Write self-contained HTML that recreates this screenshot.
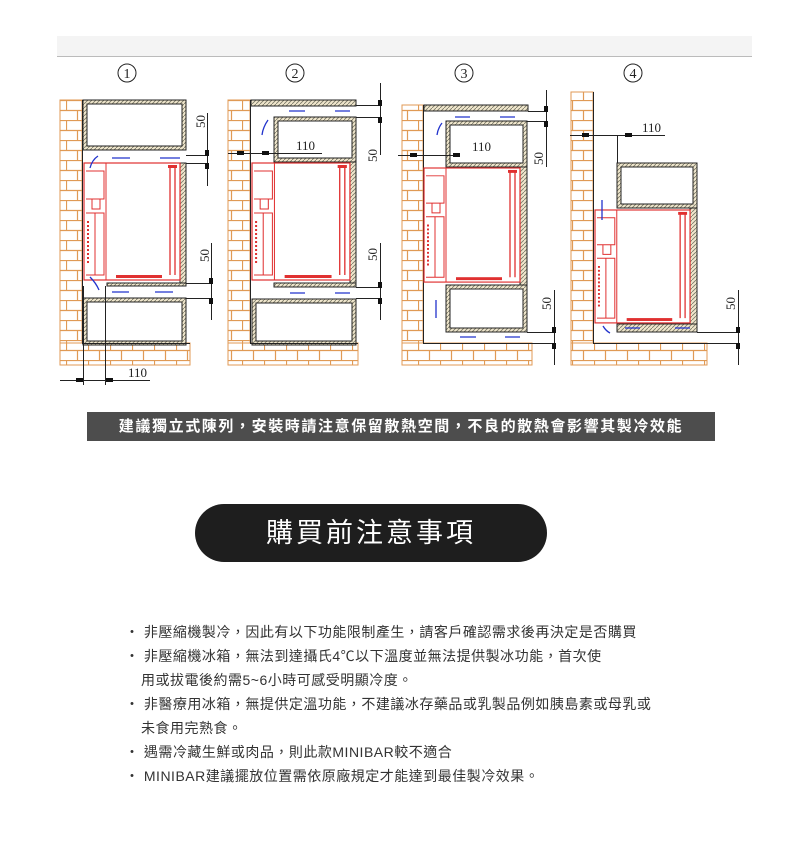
<!DOCTYPE html>
<html><head><meta charset="utf-8"><style>
html,body{margin:0;padding:0;background:#fff;width:800px;height:841px;overflow:hidden;position:relative;font-family:"Liberation Sans","Noto Sans CJK TC",sans-serif}
.banner{position:absolute;left:87px;top:412px;width:628px;height:29px;background:#4d4d4d;color:#fff;font-size:15px;font-weight:bold;text-align:center;line-height:29px;letter-spacing:1.6px}
.pill{position:absolute;left:195px;top:504px;width:352px;height:58px;background:#1e1e1e;border-radius:29px;color:#fff;font-size:27px;text-align:center;line-height:58px;letter-spacing:3px}
.notes{position:absolute;left:125px;top:620px;font-size:14px;color:#333;line-height:24px;letter-spacing:0.5px}
.notes div{white-space:nowrap}
.c{padding-left:16px}
</style></head><body>
<svg width="800" height="400" style="position:absolute;left:0;top:0" xmlns="http://www.w3.org/2000/svg">
<defs>
<pattern id="brick" width="22" height="20" patternUnits="userSpaceOnUse">
<rect width="22" height="20" fill="#fff"/>
<path d="M0 0.5H22M0 10.5H22M0.5 0V10M11.5 10V20" stroke="#e09a55" stroke-width="1.2" fill="none"/>
</pattern>
<pattern id="hatch" width="4" height="4" patternUnits="userSpaceOnUse">
<rect width="4" height="4" fill="#f0e6cc"/>
<path d="M0 4L4 0" stroke="#776" stroke-width="0.8"/>
</pattern>
<g id="fr">
<rect x="0" y="0" width="96" height="117" fill="#fff" stroke="#e03030" stroke-width="1.2"/>
<path d="M22 0V117M2 50H20V112H2M11 50V112M2 8H20V36H2M8 36V46H16V36" stroke="#e03030" fill="none" stroke-width="1"/>
<path d="M86 4V112M91 4V112" stroke="#e03030" stroke-width="1.3" fill="none"/>
<rect x="84" y="2" width="9" height="3" fill="#e03030"/>
<rect x="32" y="112" width="46" height="3" fill="#e03030"/>
<path d="M4 58V100" stroke="#e03030" stroke-dasharray="2 2" stroke-width="2"/>
</g>
</defs>
<rect x="57" y="36" width="695" height="20" fill="#f4f4f4"/>
<line x1="57" y1="56.5" x2="752" y2="56.5" stroke="#bbb"/>
<g font-family="Liberation Serif,serif" font-size="14" fill="#222" stroke="none">
<circle cx="127" cy="73" r="9" fill="none" stroke="#222"/><text x="127" y="78" text-anchor="middle">1</text>
<circle cx="295" cy="73" r="9" fill="none" stroke="#222"/><text x="295" y="78" text-anchor="middle">2</text>
<circle cx="464" cy="73" r="9" fill="none" stroke="#222"/><text x="464" y="78" text-anchor="middle">3</text>
<circle cx="633" cy="73" r="9" fill="none" stroke="#222"/><text x="633" y="78" text-anchor="middle">4</text>
</g>
<g stroke="#e09a55" stroke-width="1">
<rect x="60" y="100" width="22" height="265" fill="url(#brick)"/>
<rect x="60" y="343" width="130" height="22" fill="url(#brick)"/>
<rect x="228" y="100" width="22" height="265" fill="url(#brick)"/>
<rect x="228" y="343" width="130" height="22" fill="url(#brick)"/>
<rect x="402" y="105" width="21" height="260" fill="url(#brick)"/>
<rect x="402" y="343" width="130" height="22" fill="url(#brick)"/>
<rect x="571" y="92" width="22" height="273" fill="url(#brick)"/>
<rect x="571" y="343" width="136" height="22" fill="url(#brick)"/>
</g>
<g stroke="#222" stroke-width="1">
<path d="M82.5 100V343M250.5 100V343M423.5 105V343M593.5 92V343" />
<rect x="83" y="100" width="103" height="50" fill="url(#hatch)"/><rect x="87" y="104" width="95" height="42" fill="#fff"/>
<rect x="83" y="298" width="103" height="47" fill="url(#hatch)"/><rect x="87" y="302" width="95" height="39" fill="#fff"/>
<rect x="180" y="163" width="6" height="120" fill="url(#hatch)"/>
<rect x="107" y="283" width="79" height="3" fill="url(#hatch)"/>
<rect x="251" y="100" width="105" height="6" fill="url(#hatch)"/>
<rect x="274" y="117" width="82" height="45" fill="url(#hatch)"/><rect x="278" y="121" width="74" height="37" fill="#fff"/>
<rect x="350" y="162" width="6" height="125" fill="url(#hatch)"/>
<rect x="274" y="283" width="82" height="4" fill="url(#hatch)"/>
<rect x="252" y="299" width="104" height="46" fill="url(#hatch)"/><rect x="256" y="303" width="96" height="38" fill="#fff"/>
<rect x="424" y="105" width="104" height="6" fill="url(#hatch)"/>
<rect x="446" y="121" width="81" height="46" fill="url(#hatch)"/><rect x="450" y="125" width="73" height="38" fill="#fff"/>
<rect x="520" y="167" width="7" height="118" fill="url(#hatch)"/>
<rect x="446" y="285" width="81" height="47" fill="url(#hatch)"/><rect x="450" y="289" width="73" height="39" fill="#fff"/>
<rect x="617" y="163" width="80" height="45" fill="url(#hatch)"/><rect x="621" y="167" width="72" height="37" fill="#fff"/>
<rect x="690" y="208" width="7" height="124" fill="url(#hatch)"/>
<rect x="617" y="324" width="80" height="8" fill="url(#hatch)"/>
</g>
<use href="#fr" x="84" y="163"/>
<use href="#fr" transform="translate(252,163) scale(1.02,1)"/>
<use href="#fr" transform="translate(424,168) scale(1,0.975)"/>
<use href="#fr" transform="translate(595,210) scale(0.99,0.965)"/>
<g stroke="#222" stroke-width="1" fill="none">
<path d="M82 343.5H190M250 343.5H358M423 343.5H532M593 343.5H707"/>
<path d="M186 155.5H207M186 163.5H207M207.5 113V186M186 283.5H211M186 298.5H211M211.5 243V320M83.5 286V385M105.5 286V385M60 380.5H150"/>
<path d="M356 105.5H380M356 117.5H380M380.5 83V155M228 153.5H322M356 287.5H380M356 298.5H380M380.5 243V320"/>
<path d="M528 111.5H546M527 121.5H546M546.5 90V167M398 155.5H460M527 332.5H554M532 343.5H554M554.5 290V365"/>
<path d="M570 135.5H665M617.5 135V163M697 332.5H738M707 343.5H738M738.5 290V365"/>
</g>
<g fill="#111">
<rect x="205" y="150" width="4" height="6"/><rect x="205" y="163" width="4" height="6"/>
<rect x="209" y="278" width="4" height="6"/><rect x="209" y="298" width="4" height="6"/>
<rect x="76" y="378" width="7" height="4"/><rect x="106" y="378" width="7" height="4"/>
<rect x="378" y="100" width="4" height="6"/><rect x="378" y="117" width="4" height="6"/>
<rect x="237" y="151" width="7" height="4"/><rect x="262" y="151" width="7" height="4"/>
<rect x="378" y="282" width="4" height="6"/><rect x="378" y="298" width="4" height="6"/>
<rect x="544" y="106" width="4" height="6"/><rect x="544" y="121" width="4" height="6"/>
<rect x="410" y="153" width="7" height="4"/><rect x="453" y="153" width="7" height="4"/>
<rect x="552" y="327" width="4" height="6"/><rect x="552" y="343" width="4" height="6"/>
<rect x="582" y="133" width="7" height="4"/><rect x="625" y="133" width="7" height="4"/>
<rect x="736" y="327" width="4" height="6"/><rect x="736" y="343" width="4" height="6"/>
</g>
<g font-family="Liberation Serif,serif" font-size="13" fill="#222">
<text transform="translate(205,128) rotate(-90)">50</text>
<text transform="translate(209,262) rotate(-90)">50</text>
<text x="128" y="377">110</text>
<text transform="translate(377,162) rotate(-90)">50</text>
<text transform="translate(377,261) rotate(-90)">50</text>
<text x="296" y="150">110</text>
<text transform="translate(543,165) rotate(-90)">50</text>
<text x="472" y="151">110</text>
<text transform="translate(551,310) rotate(-90)">50</text>
<text x="642" y="132">110</text>
<text transform="translate(735,310) rotate(-90)">50</text>
</g>
<g stroke="#2233cc" stroke-width="1.3" fill="#2233cc">
<path d="M112 158H130M160 158H180M129 292H112M173 292H155M289 111H305M335 111H350M305 293H290M350 293H335M455 117H470M500 117H515M476 337H460M520 337H505M640 328H625M690 328H675" fill="none"/>
<path d="M90 168Q92 160 98 156M90 277Q96 283 99 290M262 135Q263 127 268 120M437 135Q438 128 442 123M436 318V300M602 220V200M603 326Q606 331 610 333" fill="none"/>
</g>
</svg>
<div class="banner">建議獨立式陳列，安裝時請注意保留散熱空間，不良的散熱會影響其製冷效能</div>
<div class="pill">購買前注意事項</div>
<div class="notes">
<div>・ 非壓縮機製冷，因此有以下功能限制產生，請客戶確認需求後再決定是否購買</div>
<div>・ 非壓縮機冰箱，無法到達攝氏4℃以下溫度並無法提供製冰功能，首次使</div>
<div class="c">用或拔電後約需5~6小時可感受明顯冷度。</div>
<div>・ 非醫療用冰箱，無提供定溫功能，不建議冰存藥品或乳製品例如胰島素或母乳或</div>
<div class="c">未食用完熟食。</div>
<div>・ 遇需冷藏生鮮或肉品，則此款MINIBAR較不適合</div>
<div>・ MINIBAR建議擺放位置需依原廠規定才能達到最佳製冷效果。</div>
</div>
</body></html>
